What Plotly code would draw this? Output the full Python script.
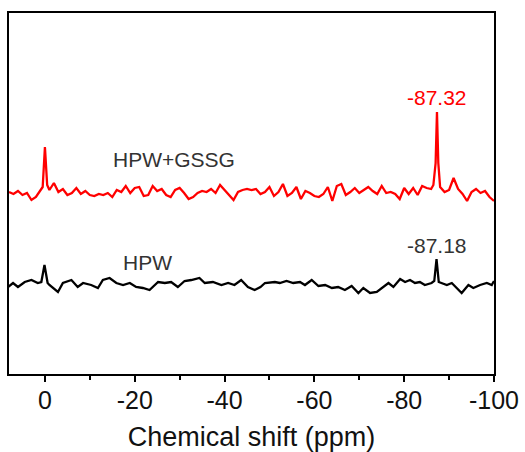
import plotly.graph_objects as go

# Chemical shift (ppm) and intensity (a.u., relative to each trace's baseline)
red_ppm = [8, 7, 6, 5, 4, 3, 2, 1, 0.5, 0, -0.5, -1, -2, -3, -4, -5, -6, -7, -8, -9,
           -10, -11, -12, -13, -14, -15, -16, -17, -18, -19, -20, -21, -22, -23, -24,
           -25, -26, -27, -28, -29, -30, -31, -32, -33, -34, -35, -36, -37, -38, -39,
           -40, -41, -42, -43, -44, -45, -46, -47, -48, -49, -50, -51, -52, -53, -54,
           -55, -56, -57, -58, -59, -60, -61, -62, -63, -64, -65, -66, -67, -68, -69,
           -70, -71, -72, -73, -74, -75, -76, -77, -78, -79, -80, -81, -82, -83, -84,
           -85, -86, -86.5, -87, -87.3, -87.6, -88, -89, -90, -91, -92, -93, -94, -95,
           -96, -97, -98, -99, -100]
red_int = [1, -1, 2, -2, 0, -7, -4, 2, 6, 46, 8, 3, 10, 1, 4, -2, 0, 5, -1, 2,
           -2, -3, -1, -2, 0, -4, 3, 1, 7, 0, 5, 6, -3, -2, 7,
           2, 4, -2, -4, 3, 5, 0, -6, -4, 0, 2, 1, 4, 0, 8,
           3, -3, -7, 1, 3, 4, 3, 4, -1, 1, 6, -3, 1, 9, -3,
           0, 6, -6, 2, 0, -3, -4, -1, 6, -8, 7, 9, -2, 1, 5,
           0, 3, 6, 2, -1, 7, 0, 1, -1, -6, 5, -1, 5, -2, 7,
           5, 4, 8, 30, 81, 30, 6, 1, 3, 15, 4, -1, -8, 1,
           4, 0, 2, -4, -8]

black_ppm = [8.2, 7.1, 6.0, 4.5, 3.0, 1.6, 0.8, 0.1, -0.6, -1.0, -2.9, -4.0, -5.9, -7.3,
             -8.5, -10.3, -11.8, -12.9, -14.4, -15.9, -17.4, -18.9, -20.3, -21.8, -23.3,
             -25.2, -26.7, -28.1, -29.6, -31.1, -32.6, -34.4, -35.6, -37.4, -39.3, -40.8,
             -42.2, -43.7, -45.2, -46.7, -48.0, -49.0, -51.2, -52.3, -53.8, -55.3, -56.8,
             -57.9, -59.4, -60.9, -62.4, -63.9, -65.3, -66.8, -68.3, -69.8, -70.9, -72.4,
             -73.9, -75.4, -76.5, -77.6, -79.1, -80.2, -81.3, -82.4, -83.5, -84.6, -86.1,
             -86.7, -87.2, -87.7, -88.3, -89.5, -90.6, -91.7, -92.8, -94.3, -95.4, -96.9,
             -98.4, -99.5, -100.0]
black_int = [-1, 3, -1, 4, 6, 3, 4, 21, 3, 1, -6, 3, 6, -1,
             3, 1, -2, 6, 8, 3, 1, 3, -1, -2, -4,
             4, 3, 4, -1, 5, 6, 8, 3, 4, 1, 3,
             1, 6, -1, -4, -1, 3, 4, 3, 5, 3, 4,
             1, 6, 0, 1, -2, -1, -4, 0, -7, -2, -7,
             -6, -1, 3, -1, 7, 4, 6, 3, 4, 1, 3,
             5, 27, 4, 3, 1, 3, -2, -7, 1, -2, 1,
             3, 1, 5]

tick_vals = [0, -20, -40, -60, -80, -100]
tick_text = ["0", "-20", "-40", "-60", "-80", "-100"]

RED_BASE = 181
BLACK_BASE = 88

fig = go.Figure()
fig.add_trace(go.Scatter(x=red_ppm, y=[v + RED_BASE for v in red_int], mode="lines",
                         line=dict(color="#ff0000", width=2.3), name="HPW+GSSG"))
fig.add_trace(go.Scatter(x=black_ppm, y=[v + BLACK_BASE for v in black_int], mode="lines",
                         line=dict(color="#000000", width=2.3), name="HPW"))

font_family = "Liberation Sans, Arial, sans-serif"
ann_font = dict(family=font_family, size=21, color="#333333")
fig.add_annotation(x=-28.7, y=215, text="HPW+GSSG", showarrow=False, font=ann_font)
fig.add_annotation(x=-22.9, y=112, text="HPW", showarrow=False, font=ann_font)
fig.add_annotation(x=-87.3, y=277, text="-87.32", showarrow=False,
                   font=dict(family=font_family, size=21, color="#ff0000"))
fig.add_annotation(x=-87.3, y=129, text="-87.18", showarrow=False, font=ann_font)

fig.update_layout(
    width=525, height=452,
    margin=dict(l=9, r=31, t=13, b=78),
    paper_bgcolor="white", plot_bgcolor="white",
    showlegend=False,
    font=dict(family=font_family, color="#111111"),
)
fig.update_xaxes(
    range=[8, -100], showgrid=False, zeroline=False, automargin=False,
    showline=True, mirror=True, linecolor="black", linewidth=2,
    ticks="outside", ticklen=6, tickwidth=2, tickcolor="black",
    tickvals=tick_vals, ticktext=tick_text,
    ticklabelstandoff=-3,
    tickfont=dict(family=font_family, size=25, color="#111111"),
    minor=dict(ticks="outside", ticklen=4, tickwidth=2, tickcolor="black", dtick=10, tick0=0, showgrid=False),
    title=dict(text="Chemical shift (ppm)", font=dict(family=font_family, size=27, color="#111111"), standoff=18),
)
fig.update_yaxes(
    range=[0, 361], showgrid=False, zeroline=False, showticklabels=False, automargin=False,
    showline=True, mirror=True, linecolor="black", linewidth=2, ticks="",
)

fig.write_html("out.html")
